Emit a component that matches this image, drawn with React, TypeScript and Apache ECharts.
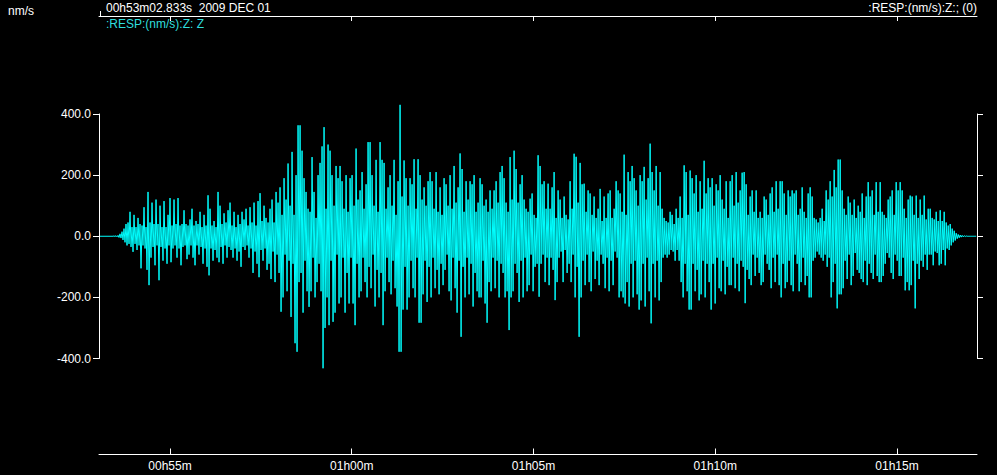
import React, { useEffect, useRef } from "react";
import * as echarts from "echarts";

// Time axis (seconds since 00h00m on 2009 DEC 01)
const START_TIME_S = 3182.833; // 00h53m02.833s
const END_TIME_S = 4632.1;
const SAMPLE_START_S = 3184.5;
const SAMPLE_DT_S = 1.651;
const TIME_TICKS_S = [3300, 3600, 3900, 4200, 4500];

// Amplitude axis (nm/s)
const AMP_MIN = -400;
const AMP_MAX = 400;
const AMP_STEP = 200;

// Trace :RESP:(nm/s):Z: Z — values read from the record (nm/s)
const traceZ: number[] = [
  0, 0, 0, 0, 0, 0, 0, 0, 0, 0,
  0, 0, 0, 0, 1, -1, 2, -2, 3, -4,
  8, -6, 15, -12, 25, -20, 40, -30, 45, -25,
  80, -35, 30, -51, 70, -25, 30, -45, 60, -30,
  40, -105, 35, -30, 95, -40, 30, -110, 145, -160,
  45, -70, 110, -35, 40, -95, 120, -30, 40, -144,
  100, -35, 30, -80, 115, -40, 30, -90, 70, -30,
  125, -85, 35, -40, 120, -30, 40, -70, 125, -40,
  35, -95, 40, -35, 85, -30, 40, -75, 35, -60,
  55, -30, 90, -70, 35, -95, 50, -30, 40, -60,
  80, -35, 30, -90, 70, -40, 35, -100, 134, -128,
  90, -40, 35, -80, 50, -45, 30, -70, 145, -85,
  100, -35, 40, -90, 75, -30, 45, -70, 85, -35,
  110, -45, 35, -70, 80, -40, 30, -80, 70, -50,
  40, -100, 80, -35, 55, -45, 90, -30, 35, -70,
  95, -40, 45, -120, 110, -50, 35, -90, 115, -134,
  141, -45, 50, -80, 100, -40, 60, -110, 45, -90,
  90, -140, 120, -50, 45, -150, 145, -60, 110, -120,
  160, -247, 70, -200, 190, -60, 120, -180, 238, -80,
  100, -264, 276, -90, 70, -350, 200, -378, 363, -150,
  363, -120, 280, -250, 190, -80, 145, -180, 90, -231,
  80, -180, 259, -70, 145, -200, 60, -150, 200, -90,
  240, -180, 294, -432, 357, -300, 90, -200, 300, -291,
  280, -80, 200, -280, 100, -250, 230, -60, 190, -220,
  230, -200, 180, -70, 90, -250, 200, -120, 80, -220,
  190, -70, 200, -220, 100, -291, 287, -90, 120, -200,
  150, -180, 210, -70, 90, -150, 170, -200, 308, -100,
  308, -170, 200, -60, 100, -230, 250, -110, 80, -200,
  308, -120, 250, -291, 240, -180, 90, -70, 160, -150,
  200, -190, 100, -80, 250, -170, 70, -230, 180, -378,
  430, -378, 130, -240, 248, -100, 190, -240, 100, -200,
  190, -80, 170, -170, 252, -200, 90, -70, 252, -283,
  200, -283, 120, -190, 160, -80, 100, -215, 180, -100,
  210, -200, 180, -70, 90, -170, 210, -110, 80, -190,
  160, -90, 70, -160, 190, -110, 170, -60, 100, -180,
  200, -210, 90, -70, 230, -170, 110, -250, 160, -80,
  271, -329, 220, -100, 80, -200, 180, -70, 120, -190,
  180, -90, 170, -230, 200, -120, 80, -180, 110, -200,
  190, -200, 170, -80, 100, -220, 120, -283, 80, -150,
  150, -180, 90, -70, 150, -170, 180, -80, 110, -200,
  210, -90, 230, -120, 190, -200, 110, -180, 80, -307,
  259, -200, 120, -180, 280, -90, 220, -120, 110, -215,
  170, -80, 200, -200, 120, -70, 90, -180, 80, -160,
  123, -60, 140, -180, 70, -100, 60, -90, 265, -198,
  230, -90, 170, -60, 180, -150, 90, -70, 172, -160,
  90, -70, 160, -110, 210, -209, 60, -150, 150, -70,
  120, -50, 60, -150, 130, -45, 70, -120, 55, -90,
  180, -150, 90, -60, 270, -200, 260, -100, 110, -329,
  240, -200, 170, -80, 172, -160, 80, -60, 150, -150,
  140, -180, 70, -50, 130, -140, 60, -80, 90, -160,
  155, -60, 50, -90, 130, -170, 60, -70, 140, -180,
  150, -80, 60, -160, 90, -50, 180, -70, 150, -200,
  140, -180, 80, -200, 267, -220, 70, -150, 210, -230,
  180, -90, 230, -200, 190, -80, 150, -190, 100, -240,
  200, -210, 180, -90, 227, -230, 120, -70, 190, -180,
  303, -285, 210, -90, 150, -200, 230, -80, 100, -210,
  210, -150, 90, -70, 60, -60, 50, -70, 45, -60,
  80, -45, 70, -50, 40, -80, 90, -45, 60, -80,
  130, -150, 60, -200, 232, -90, 210, -180, 70, -240,
  215, -240, 190, -90, 140, -180, 200, -110, 80, -210,
  180, -190, 90, -80, 247, -200, 140, -90, 190, -150,
  160, -240, 190, -90, 100, -220, 170, -70, 150, -170,
  200, -180, 120, -80, 90, -190, 180, -100, 60, -160,
  180, -160, 200, -70, 100, -170, 210, -90, 110, -180,
  150, -80, 208, -100, 210, -219, 170, -110, 70, -140,
  130, -160, 150, -60, 80, -130, 150, -70, 60, -120,
  80, -160, 60, -150, 130, -60, 120, -90, 70, -110,
  140, -170, 160, -70, 80, -150, 180, -60, 90, -160,
  180, -200, 180, -90, 140, -170, 70, -150, 150, -80,
  130, -160, 150, -180, 140, -60, 150, -90, 70, -180,
  90, -150, 160, -70, 80, -160, 60, -130, 140, -200,
  160, -200, 130, -80, 60, -70, 55, -50, 45, -60,
  60, -70, 90, -80, 50, -60, 150, -100, 120, -70,
  180, -200, 130, -150, 217, -90, 160, -236, 251, -190,
  251, -190, 150, -170, 90, -80, 70, -140, 130, -60,
  110, -160, 70, -130, 120, -55, 60, -110, 100, -120,
  80, -140, 140, -150, 60, -80, 130, -160, 177, -90,
  130, -120, 150, -140, 70, -60, 177, -130, 80, -150,
  177, -150, 80, -130, 70, -90, 60, -55, 120, -70,
  130, -120, 150, -140, 70, -60, 177, -80, 150, -130,
  177, -130, 150, -70, 90, -177, 60, -150, 120, -177,
  133, -160, 130, -80, 70, -236, 133, -90, 60, -140,
  120, -80, 70, -100, 133, -60, 55, -110, 90, -60,
  90, -60, 60, -95, 55, -50, 80, -55, 50, -95,
  85, -90, 50, -45, 80, -95, 45, -40, 35, -45,
  40, -30, 25, -20, 18, -14, 10, -8, 6, -5,
  4, -3, 3, -2, 2, -1, 1, 0, 0, 0,
  0, 0, 0, 0, 0, 0, 0,
];

const HEADER_TIME = "00h53m02.833s  2009 DEC 01";
const TRACE_LABEL = ":RESP:(nm/s):Z: Z";
const TRACE_LABEL_RIGHT = ":RESP:(nm/s):Z:; (0)";
const UNIT_LABEL = "nm/s";

const FONT = '"Liberation Sans", Arial, sans-serif';
const WHITE = "#ffffff";
const CYAN = "#00ffff";

function fmtTime(v: number): string {
  const h = Math.floor(v / 3600);
  const m = Math.floor((v % 3600) / 60);
  const p = (n: number) => (n < 10 ? "0" + n : "" + n);
  return `${p(h)}h${p(m)}m`;
}

export default function App() {
  const ref = useRef<HTMLDivElement>(null);

  useEffect(() => {
    if (!ref.current) return;
    document.body.style.margin = "0";
    document.body.style.background = "#000";
    const chart = echarts.init(ref.current, undefined, { renderer: "svg" });
    const data = traceZ.map((v, i) => [SAMPLE_START_S + i * SAMPLE_DT_S, v]);

    const xBase = {
      type: "value" as const,
      min: START_TIME_S,
      max: END_TIME_S,
      splitLine: { show: false },
      axisLine: { show: true, onZero: false, lineStyle: { color: WHITE, width: 1 } },
    };
    const yBase = {
      type: "value" as const,
      min: AMP_MIN,
      max: AMP_MAX,
      interval: AMP_STEP,
      splitLine: { show: false },
      axisLine: { show: true, onZero: false, lineStyle: { color: WHITE, width: 1 } },
      axisTick: { show: true, inside: false, length: 6, lineStyle: { color: WHITE } },
    };

    chart.setOption({
      animation: false,
      backgroundColor: "#000000",
      grid: { left: 99, right: 20, top: 114, bottom: 116.5, containLabel: false },
      xAxis: [
        {
          ...xBase,
          position: "bottom",
          offset: 96,
          axisTick: {
            show: true,
            inside: true,
            length: 6,
            customValues: TIME_TICKS_S,
            lineStyle: { color: WHITE },
          },
          axisLabel: {
            show: true,
            customValues: TIME_TICKS_S,
            formatter: (v: number) => fmtTime(v),
            color: WHITE,
            fontSize: 12,
            fontFamily: FONT,
            margin: 5,
          },
        },
        {
          ...xBase,
          position: "top",
          offset: 98,
          axisTick: {
            show: true,
            inside: true,
            length: 5,
            customValues: TIME_TICKS_S,
            lineStyle: { color: WHITE },
          },
          axisLabel: { show: false },
        },
      ],
      yAxis: [
        {
          ...yBase,
          position: "left",
          axisLabel: {
            show: true,
            formatter: (v: number) => v.toFixed(1),
            color: WHITE,
            fontSize: 12,
            fontFamily: FONT,
            margin: 8,
            padding: [4, 0, 0, 0],
          },
        },
        {
          ...yBase,
          position: "right",
          axisLabel: { show: false },
        },
      ],
      series: [
        {
          type: "line",
          xAxisIndex: 0,
          yAxisIndex: 0,
          data,
          showSymbol: false,
          symbol: "none",
          clip: false,
          silent: true,
          lineStyle: { color: CYAN, width: 1 },
          itemStyle: { color: CYAN },
        },
      ],
      graphic: [
        {
          type: "text",
          left: 8,
          top: 5,
          style: { text: UNIT_LABEL, fill: WHITE, font: `12px ${FONT}` },
        },
        {
          type: "text",
          x: 106,
          y: 8,
          style: {
            text: HEADER_TIME,
            fill: WHITE,
            font: `12px ${FONT}`,
            textAlign: "left",
            textVerticalAlign: "middle",
          },
        },
        {
          type: "text",
          x: 106,
          y: 24,
          style: {
            text: TRACE_LABEL,
            fill: "#2fdede",
            font: `12px ${FONT}`,
            textAlign: "left",
            textVerticalAlign: "middle",
          },
        },
        {
          type: "text",
          x: 977,
          y: 8,
          style: {
            text: TRACE_LABEL_RIGHT,
            fill: WHITE,
            font: `12px ${FONT}`,
            textAlign: "right",
            textVerticalAlign: "middle",
          },
        },
        {
          type: "line",
          shape: { x1: 100.5, y1: 11, x2: 100.5, y2: 16 },
          style: { stroke: WHITE, lineWidth: 1 },
        },
      ],
    });

    return () => chart.dispose();
  }, []);

  return (
    <div
      ref={ref}
      style={{ position: "absolute", left: 0, top: 0, width: 997, height: 475, background: "#000" }}
    />
  );
}
